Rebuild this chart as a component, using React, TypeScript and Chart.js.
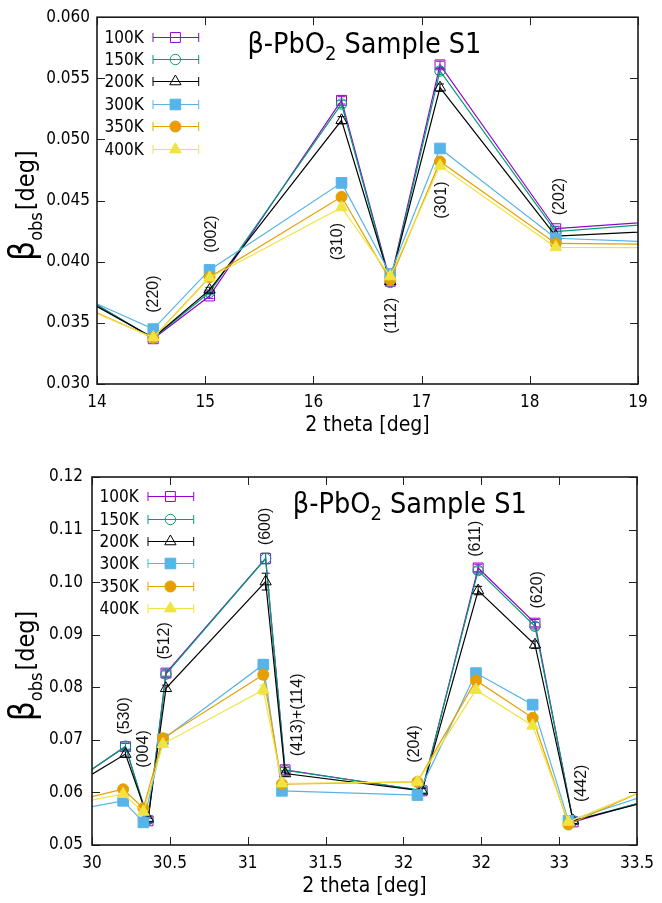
import React, { useEffect, useRef } from "react";
import { Chart, registerables } from "chart.js";
Chart.register(...registerables);

// ---------- shared ----------
const SERIES_LABELS = ["100K", "150K", "200K", "300K", "350K", "400K"];
const SERIES_COLORS = ["#9400d3", "#009e73", "#000000", "#56b4e9", "#e69f00", "#f0e442"];
const SERIES_STYLES = ["rect", "circle", "triangle", "rect", "circle", "triangle"];
const SERIES_FILLED = [false, false, false, true, true, true];
const TITLE_MAIN = "β-PbO";
const TITLE_SUB = "2";
const TITLE_TAIL = " Sample S1";
const X_TITLE = "2 theta [deg]";
const Y_TITLE_SYM = "β";
const Y_TITLE_SUB = "obs";
const Y_TITLE_UNIT = "[deg]";

// ---------- top chart (14–19 deg) ----------
const TOP_X_TICKS = ["14", "15", "16", "17", "18", "19"];
const TOP_Y_TICKS = ["0.030", "0.035", "0.040", "0.045", "0.050", "0.055", "0.060"];
const TOP_X = [13.6, 14.52, 15.04, 16.26, 16.71, 17.17, 18.24, 19.6];
const TOP_100K = [0.0386, 0.0337, 0.0372, 0.0532, 0.0384, 0.0561, 0.0427, 0.04355];
const TOP_150K = [0.03856, 0.03375, 0.0375, 0.0529, 0.0383, 0.0556, 0.04246, 0.04343];
const TOP_200K = [0.03831, 0.03378, 0.0377, 0.05157, 0.0384, 0.05424, 0.0421, 0.04269];
const TOP_300K = [0.03813, 0.03449, 0.03933, 0.04645, 0.039, 0.04926, 0.04192, 0.04147];
const TOP_350K = [0.03738, 0.03378, 0.03873, 0.04531, 0.0385, 0.0482, 0.0415, 0.04138];
const TOP_400K = [0.03725, 0.0338, 0.0387, 0.04444, 0.0388, 0.04784, 0.04118, 0.04113];
const TOP_ERR_100K = [0.0002, 0.0002, 0.0002, 0.0003, 0.0002, 0.0003, 0.0002, 0.0002];
const TOP_ERR_150K = [0.0002, 0.0002, 0.0002, 0.0003, 0.0002, 0.0003, 0.0002, 0.0002];
const TOP_ERR_200K = [0.0002, 0.0002, 0.0002, 0.0003, 0.0002, 0.0003, 0.0002, 0.0002];
const TOP_ERR_300K = [0.0001, 0.0001, 0.0001, 0.0002, 0.0001, 0.0002, 0.0001, 0.0001];
const TOP_ERR_350K = [0.0001, 0.0001, 0.0001, 0.0002, 0.0001, 0.0002, 0.0001, 0.0001];
const TOP_ERR_400K = [0.0001, 0.0001, 0.0001, 0.0002, 0.0001, 0.0002, 0.0001, 0.0001];
const TOP_HKL = ["(220)", "(002)", "(310)", "(112)", "(301)", "(202)"];
const TOP_HKL_X = [14.527, 15.057, 16.227, 16.72, 17.183, 18.276];
const TOP_HKL_Y = [0.03735, 0.04227, 0.04164, 0.03558, 0.04504, 0.04533];

// ---------- bottom chart (30–33.5 deg) ----------
const BOT_X_TICKS = ["30", "30.5", "31", "31.5", "32", "32", "33", "33.5"];
const BOT_Y_TICKS = ["0.05", "0.06", "0.07", "0.08", "0.09", "0.10", "0.11", "0.12"];
const BOT_X_LOW = [29.8, 30.215, 30.36, 30.475, 31.115, 31.24, 32.12, 32.48, 32.845, 33.09, 33.8];
const BOT_X_HIGH = [29.8, 30.2, 30.33, 30.455, 31.1, 31.22, 32.09, 32.466, 32.83, 33.06, 33.8];
const BOT_100K = [0.0604, 0.0687, 0.0546, 0.0827, 0.1045, 0.0643, 0.0603, 0.1027, 0.0922, 0.0544, 0.0604];
const BOT_150K = [0.0603, 0.0688, 0.0548, 0.0825, 0.1045, 0.0642, 0.0604, 0.1022, 0.0916, 0.0546, 0.0603];
const BOT_200K = [0.0599, 0.0673, 0.055, 0.0798, 0.1001, 0.0636, 0.0603, 0.0984, 0.0881, 0.0546, 0.06];
const BOT_300K = [0.0562, 0.0584, 0.0543, 0.0701, 0.0843, 0.0603, 0.0595, 0.0827, 0.0767, 0.0546, 0.0618];
const BOT_350K = [0.0578, 0.0606, 0.057, 0.0703, 0.0824, 0.0616, 0.062, 0.0813, 0.0742, 0.0539, 0.0638];
const BOT_400K = [0.0574, 0.0597, 0.0563, 0.0692, 0.0795, 0.0617, 0.062, 0.0795, 0.0727, 0.0544, 0.0635];
const BOT_ERR_100K = [0.0005, 0.0006, 0.0005, 0.0006, 0.001, 0.0005, 0.0005, 0.0007, 0.0007, 0.0005, 0.0005];
const BOT_ERR_150K = [0.0005, 0.0006, 0.0005, 0.0006, 0.001, 0.0005, 0.0005, 0.0007, 0.0007, 0.0005, 0.0005];
const BOT_ERR_200K = [0.0005, 0.0006, 0.0005, 0.0006, 0.0016, 0.0005, 0.0005, 0.0008, 0.0007, 0.0005, 0.0005];
const BOT_ERR_300K = [0.0004, 0.0004, 0.0004, 0.0005, 0.001, 0.0004, 0.0004, 0.0006, 0.0006, 0.0004, 0.0004];
const BOT_ERR_350K = [0.0004, 0.0004, 0.0004, 0.0005, 0.0009, 0.0004, 0.0004, 0.0006, 0.0006, 0.0004, 0.0004];
const BOT_ERR_400K = [0.0004, 0.0004, 0.0004, 0.0005, 0.0009, 0.0004, 0.0004, 0.0006, 0.0006, 0.0004, 0.0004];
const BOT_HKL = ["(530)", "(004)", "(512)", "(600)", "(413)+(114)", "(204)", "(611)", "(620)", "(442)"];
const BOT_HKL_X = [30.21, 30.33, 30.468, 31.112, 31.318, 32.073, 32.466, 32.86, 33.142];
const BOT_HKL_Y = [0.07455, 0.06827, 0.08883, 0.11059, 0.07474, 0.06922, 0.10825, 0.09854, 0.06174];

const FONT = "'DejaVu Sans Condensed', 'DejaVu Sans', sans-serif";
const LABEL_FONT = "'Liberation Sans', Arial, sans-serif";

type Spec = {
  height: number;
  padTop: number;
  padRight: number;
  yWidth: number;
  xHeight: number;
  xMin: number; xMax: number; xStep: number; xTicks: string[];
  yMin: number; yMax: number; yStep: number; yTicks: string[];
  xs: number[][]; ys: number[][]; errs: number[][];
  hkl: string[]; hklX: number[]; hklY: number[];
  titleX: number; titleY: number;
  yTickPad: number; xTickPad: number;
  radii: number[];
};

const TOP_SPEC: Spec = {
  height: 450, padTop: 17, padRight: 24, yWidth: 97, xHeight: 66,
  xMin: 14, xMax: 19, xStep: 1, xTicks: TOP_X_TICKS,
  yMin: 0.03, yMax: 0.06, yStep: 0.005, yTicks: TOP_Y_TICKS,
  xs: [TOP_X, TOP_X, TOP_X, TOP_X, TOP_X, TOP_X],
  ys: [TOP_100K, TOP_150K, TOP_200K, TOP_300K, TOP_350K, TOP_400K],
  errs: [TOP_ERR_100K, TOP_ERR_150K, TOP_ERR_200K, TOP_ERR_300K, TOP_ERR_350K, TOP_ERR_400K],
  hkl: TOP_HKL, hklX: TOP_HKL_X, hklY: TOP_HKL_Y,
  titleX: 15.39, titleY: 0.05706,
  yTickPad: 7, xTickPad: 8,
  radii: [7, 5.2, 6.5, 7.5, 5.5, 6.8],
};

const BOT_SPEC: Spec = {
  height: 453, padTop: 27, padRight: 22, yWidth: 92, xHeight: 58,
  xMin: 30, xMax: 33.5, xStep: 0.5, xTicks: BOT_X_TICKS,
  yMin: 0.05, yMax: 0.12, yStep: 0.01, yTicks: BOT_Y_TICKS,
  xs: [BOT_X_LOW, BOT_X_LOW, BOT_X_LOW, BOT_X_HIGH, BOT_X_HIGH, BOT_X_HIGH],
  ys: [BOT_100K, BOT_150K, BOT_200K, BOT_300K, BOT_350K, BOT_400K],
  errs: [BOT_ERR_100K, BOT_ERR_150K, BOT_ERR_200K, BOT_ERR_300K, BOT_ERR_350K, BOT_ERR_400K],
  hkl: BOT_HKL, hklX: BOT_HKL_X, hklY: BOT_HKL_Y,
  titleX: 31.29, titleY: 0.11315,
  yTickPad: 9, xTickPad: 8,
  radii: [7, 5.2, 6.5, 7.5, 5.5, 6.8],
};

function drawMarker(ctx: CanvasRenderingContext2D, style: string, x: number, y: number, r: number, color: string, filled: boolean) {
  ctx.beginPath();
  if (style === "rect") {
    const s = Math.SQRT1_2 * r;
    ctx.rect(x - s, y - s, 2 * s, 2 * s);
  } else if (style === "circle") {
    ctx.arc(x, y, r, 0, Math.PI * 2);
  } else {
    ctx.moveTo(x, y - r);
    ctx.lineTo(x + 0.866 * r, y + 0.5 * r);
    ctx.lineTo(x - 0.866 * r, y + 0.5 * r);
    ctx.closePath();
  }
  if (filled) {
    ctx.fillStyle = color;
    ctx.fill();
  }
  ctx.strokeStyle = color;
  ctx.lineWidth = 1;
  ctx.stroke();
}

function makePlugin(spec: Spec) {
  return {
    id: "gnuplotDecor",
    beforeDatasetsDraw(chart: any) {
      const { ctx, chartArea: a, scales } = chart;
      const xs = scales.x, ys = scales.y;
      ctx.save();
      ctx.beginPath();
      ctx.rect(a.left, a.top, a.right - a.left, a.bottom - a.top);
      ctx.clip();
      ctx.lineWidth = 1;
      spec.ys.forEach((vals, i) => {
        ctx.strokeStyle = SERIES_COLORS[i];
        vals.forEach((v, j) => {
          const px = xs.getPixelForValue(spec.xs[i][j]);
          const pTop = ys.getPixelForValue(v + spec.errs[i][j]);
          const pBot = ys.getPixelForValue(v - spec.errs[i][j]);
          ctx.beginPath();
          ctx.moveTo(px, pTop); ctx.lineTo(px, pBot);
          ctx.moveTo(px - 4, pTop); ctx.lineTo(px + 4, pTop);
          ctx.moveTo(px - 4, pBot); ctx.lineTo(px + 4, pBot);
          ctx.stroke();
        });
      });
      ctx.restore();
    },
    afterDraw(chart: any) {
      const { ctx, chartArea: a, scales } = chart;
      const xs = scales.x, ys = scales.y;
      ctx.save();
      // inward ticks on all four sides
      ctx.strokeStyle = "#222";
      ctx.lineWidth = 1;
      const TL = 8;
      xs.ticks.forEach((t: any) => {
        const px = Math.round(xs.getPixelForValue(t.value)) + 0.5;
        ctx.beginPath();
        ctx.moveTo(px, a.bottom); ctx.lineTo(px, a.bottom - TL);
        ctx.moveTo(px, a.top); ctx.lineTo(px, a.top + TL);
        ctx.stroke();
      });
      ys.ticks.forEach((t: any) => {
        const py = Math.round(ys.getPixelForValue(t.value)) + 0.5;
        ctx.beginPath();
        ctx.moveTo(a.left, py); ctx.lineTo(a.left + TL, py);
        ctx.moveTo(a.right, py); ctx.lineTo(a.right - TL, py);
        ctx.stroke();
      });
      // border
      ctx.lineWidth = 1.6;
      ctx.strokeStyle = "#1a1a1a";
      ctx.strokeRect(a.left, a.top, a.right - a.left, a.bottom - a.top);

      // hkl labels (rotated)
      ctx.fillStyle = "#111";
      ctx.font = `16px ${LABEL_FONT}`;
      ctx.textAlign = "center";
      ctx.textBaseline = "middle";
      spec.hkl.forEach((txt, i) => {
        const px = xs.getPixelForValue(spec.hklX[i]);
        const py = ys.getPixelForValue(spec.hklY[i]);
        ctx.save();
        ctx.translate(px, py);
        ctx.rotate(-Math.PI / 2);
        ctx.fillText(txt, 0, 0);
        ctx.restore();
      });

      // title
      ctx.textAlign = "left";
      ctx.textBaseline = "alphabetic";
      ctx.fillStyle = "#000";
      let tx = xs.getPixelForValue(spec.titleX);
      const tyy = ys.getPixelForValue(spec.titleY);
      ctx.font = `28.5px ${FONT}`;
      ctx.fillText(TITLE_MAIN, tx, tyy);
      tx += ctx.measureText(TITLE_MAIN).width;
      ctx.font = `20px ${FONT}`;
      ctx.fillText(TITLE_SUB, tx, tyy + 7);
      tx += ctx.measureText(TITLE_SUB).width;
      ctx.font = `28.5px ${FONT}`;
      ctx.fillText(TITLE_TAIL, tx, tyy);

      // legend
      ctx.font = `17px ${FONT}`;
      ctx.textAlign = "right";
      ctx.textBaseline = "middle";
      SERIES_LABELS.forEach((lab, i) => {
        const ry = Math.round(a.top + 19.3 + i * 22.4) + 0.5;
        ctx.fillStyle = "#000";
        ctx.fillText(lab, a.left + 46.7, ry + 1);
        const l = a.left + 56, r = a.left + 101.7;
        ctx.strokeStyle = SERIES_COLORS[i];
        ctx.lineWidth = 1;
        ctx.beginPath();
        ctx.moveTo(l, ry); ctx.lineTo(r, ry);
        ctx.moveTo(l, ry - 4.5); ctx.lineTo(l, ry + 4.5);
        ctx.moveTo(r, ry - 4.5); ctx.lineTo(r, ry + 4.5);
        ctx.stroke();
        drawMarker(ctx, SERIES_STYLES[i], a.left + 78.4, ry, spec.radii[i], SERIES_COLORS[i], SERIES_FILLED[i]);
      });

      // x axis title
      ctx.fillStyle = "#000";
      ctx.textAlign = "center";
      ctx.textBaseline = "alphabetic";
      ctx.font = `21px ${FONT}`;
      ctx.fillText(X_TITLE, (a.left + a.right) / 2, a.bottom + 47);

      // y axis title (rotated, with subscript)
      const cy = (a.top + a.bottom) / 2 + 5;
      ctx.save();
      ctx.translate(34, cy);
      ctx.rotate(-Math.PI / 2);
      ctx.textAlign = "left";
      ctx.font = `35px ${FONT}`;
      const wB = ctx.measureText(Y_TITLE_SYM).width;
      ctx.font = `18px ${FONT}`;
      const wS = ctx.measureText(Y_TITLE_SUB).width;
      ctx.font = `25px ${FONT}`;
      const wD = ctx.measureText(Y_TITLE_UNIT).width;
      const total = wB + wS + wD + 2;
      let sx = -total / 2;
      ctx.font = `35px ${FONT}`;
      ctx.fillText(Y_TITLE_SYM, sx, 0);
      sx += wB;
      ctx.font = `18px ${FONT}`;
      ctx.fillText(Y_TITLE_SUB, sx, 8);
      sx += wS + 2;
      ctx.font = `25px ${FONT}`;
      ctx.fillText(Y_TITLE_UNIT, sx, 0);
      ctx.restore();

      ctx.restore();
    },
  };
}

function buildConfig(spec: Spec): any {
  const datasets = SERIES_LABELS.map((label, i) => ({
    label,
    data: spec.xs[i].map((x, j) => ({ x, y: spec.ys[i][j] })),
    showLine: true,
    borderColor: SERIES_COLORS[i],
    backgroundColor: SERIES_COLORS[i],
    borderWidth: 1.2,
    pointStyle: SERIES_STYLES[i],
    pointRadius: spec.radii[i],
    pointHoverRadius: spec.radii[i],
    pointBorderWidth: 1,
    pointBorderColor: SERIES_COLORS[i],
    pointBackgroundColor: SERIES_FILLED[i] ? SERIES_COLORS[i] : "rgba(0,0,0,0)",
    tension: 0,
    fill: false,
    order: 5 - i,
  }));
  return {
    type: "scatter",
    data: { datasets },
    options: {
      animation: false,
      responsive: false,
      devicePixelRatio: 1,
      layout: { padding: { top: spec.padTop, right: spec.padRight, left: 0, bottom: 0 } },
      plugins: { legend: { display: false }, tooltip: { enabled: false }, title: { display: false } },
      events: [],
      scales: {
        x: {
          type: "linear",
          min: spec.xMin,
          max: spec.xMax,
          grid: { display: false, drawTicks: false },
          border: { display: false },
          afterFit: (s: any) => { s.height = spec.xHeight; },
          ticks: {
            stepSize: spec.xStep,
            autoSkip: false,
            maxRotation: 0,
            padding: spec.xTickPad,
            color: "#000",
            font: { family: FONT, size: 17 },
            callback: (_v: any, i: number) => spec.xTicks[i],
          },
        },
        y: {
          type: "linear",
          min: spec.yMin,
          max: spec.yMax,
          grid: { display: false, drawTicks: false },
          border: { display: false },
          afterFit: (s: any) => { s.width = spec.yWidth; },
          ticks: {
            stepSize: spec.yStep,
            autoSkip: false,
            padding: spec.yTickPad,
            color: "#000",
            font: { family: FONT, size: 17 },
            callback: (_v: any, i: number) => spec.yTicks[i],
          },
        },
      },
    },
    plugins: [makePlugin(spec)],
  };
}

function Panel({ spec }: { spec: Spec }) {
  const ref = useRef<HTMLCanvasElement>(null);
  useEffect(() => {
    if (!ref.current) return;
    const chart = new Chart(ref.current, buildConfig(spec));
    return () => chart.destroy();
  }, [spec]);
  return (
    <canvas
      ref={ref}
      width={662}
      height={spec.height}
      style={{ display: "block", width: 662, height: spec.height }}
    />
  );
}

export default function App() {
  return (
    <div style={{ position: "absolute", left: 0, top: 0, width: 662, height: 903, background: "#fff" }}>
      <Panel spec={TOP_SPEC} />
      <Panel spec={BOT_SPEC} />
    </div>
  );
}
